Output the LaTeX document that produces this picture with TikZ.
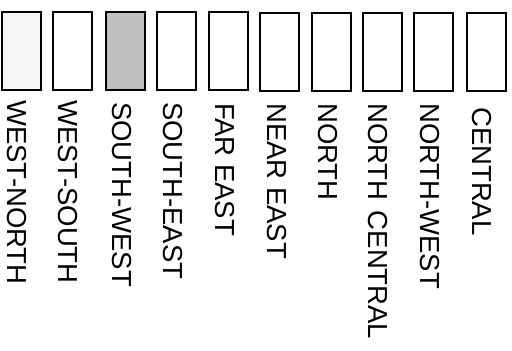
\documentclass[tikz,border=0pt]{standalone}
\usepackage{fontspec}
\setmainfont{Liberation Sans}
\begin{document}
\begin{tikzpicture}[x=1pt,y=-1pt,
  box/.style={draw=black,line width=2pt,minimum width=39pt,minimum height=78pt,inner sep=0pt},
  lbl/.style={rotate=-90,anchor=base west,inner sep=0pt,font=\fontsize{27.5}{27.5}\selectfont}]
\useasboundingbox (0,0) rectangle (512,351);
\node[box,fill=gray!7] (b1) at (21,50.5) {};
\node[box] (b2) at (72,50.5) {};
\node[box,fill=gray!50] (b3) at (125.5,50.5) {};
\node[box] (b4) at (176.5,51) {};
\node[box] (b5) at (228,51) {};
\node[box] (b6) at (279.5,51.5) {};
\node[box] (b7) at (331,51.5) {};
\node[box] (b8) at (382,51.5) {};
\node[box] (b9) at (433,51.5) {};
\node[box] (b10) at (486,52) {};
\node[lbl] (l1) at (7,100) {WEST-NORTH};
\node[lbl] (l2) at (58,100) {WEST-SOUTH};
\node[lbl] (l3) at (112,102) {SOUTH-WEST};
\node[lbl] (l4) at (163,102) {SOUTH-EAST};
\node[lbl] (l5) at (215,103) {FAR EAST};
\node[lbl] (l6) at (267,103) {NEAR EAST};
\node[lbl] (l7) at (318,103) {NORTH};
\node[lbl] (l8) at (368,103) {NORTH\hspace{0.1em} CENTRAL};
\node[lbl] (l9) at (420,103) {NORTH-WEST};
\node[lbl] (l10) at (472,107) {CENTRAL};
\end{tikzpicture}
\end{document}
